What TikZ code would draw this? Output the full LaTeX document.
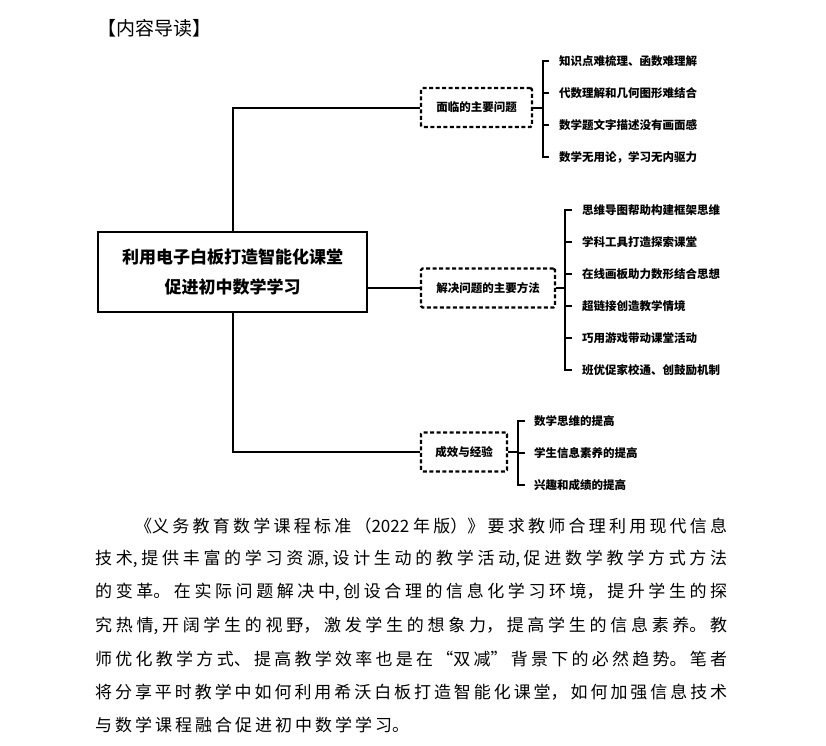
\documentclass[tikz,border=0pt]{standalone}
\usepackage{fontspec}
\setmainfont{Noto Sans CJK SC}
\def\parasetup{\XeTeXlinebreaklocale "zh"\XeTeXlinebreakskip=3pt plus 3pt minus 1pt\relax\tolerance=10000\relax}
\begin{document}
\begin{tikzpicture}[x=1pt,y=-1pt,
  conn/.style={line width=2pt},
  mainbox/.style={draw,line width=1.8pt,minimum width=269pt,minimum height=80pt,align=center,inner sep=0pt,
    font=\fontsize{17}{30}\selectfont\bfseries},
  branch/.style={draw,line width=2.2pt,dash pattern=on 4pt off 2.5pt,rounded corners=1.5pt,minimum height=39pt,inner sep=0pt,
    font=\fontsize{11.5}{14}\selectfont\bfseries},
  item/.style={anchor=west,inner sep=0pt,font=\fontsize{11.5}{14}\selectfont\bfseries},
  para/.style={anchor=west,inner sep=0pt,align=justify,text width=632pt,font=\fontsize{17}{20}\selectfont\parasetup}]
\useasboundingbox (0,0) rectangle (826,745);

% title
\node[inner sep=0pt,font=\fontsize{19}{22}\selectfont] (title) at (154,28) {【内容导读】};

% main node
\node[mainbox] (main) at (232.5,272) {利用电子白板打造智能化课堂\\促进初中数学学习};

% branches
\node[branch,minimum width=111pt] (b1) at (476.5,107.5) {面临的主要问题};
\node[branch,minimum width=134pt] (b2) at (488,288) {解决问题的主要方法};
\node[branch,minimum width=86pt]  (b3) at (464,452) {成效与经验};

% items group 1
\node[item] (i11) at (559,61)  {知识点难梳理、函数难理解};
\node[item] (i12) at (559,93)  {代数理解和几何图形难结合};
\node[item] (i13) at (559,125) {数学题文字描述没有画面感};
\node[item] (i14) at (559,157) {数学无用论，学习无内驱力};
% items group 2
\node[item] (i21) at (582,210) {思维导图帮助构建框架思维};
\node[item] (i22) at (582,242) {学科工具打造探索课堂};
\node[item] (i23) at (582,274) {在线画板助力数形结合思想};
\node[item] (i24) at (582,306) {超链接创造教学情境};
\node[item] (i25) at (582,338) {巧用游戏带动课堂活动};
\node[item] (i26) at (582,370) {班优促家校通、创鼓励机制};
% items group 3
\node[item] (i31) at (534,421) {数学思维的提高};
\node[item] (i32) at (534,453) {学生信息素养的提高};
\node[item] (i33) at (534,485) {兴趣和成绩的提高};

% bracket coordinates
\coordinate (k1) at (543,0);  \coordinate (t1) at (549,0);
\coordinate (k2) at (565,0);  \coordinate (t2) at (572,0);
\coordinate (k3) at (518,0);  \coordinate (t3) at (525,0);

% trunk connectors
\draw[conn] (b1.west) -| (main.north);
\draw[conn] (b3.west) -| (main.south);
\draw[conn] (main.east |- b2.west) -- (b2.west);

% bracket 1
\draw[conn] (b1.east) -- (b1.east -| k1);
\draw[conn] (i11.west -| t1) -- (i11.west -| k1) -- (i14.west -| k1) -- (i14.west -| t1);
\draw[conn] (i12.west -| k1) -- (i12.west -| t1);
\draw[conn] (i13.west -| k1) -- (i13.west -| t1);
% bracket 2
\draw[conn] (b2.east) -- (b2.east -| k2);
\draw[conn] (i21.west -| t2) -- (i21.west -| k2) -- (i26.west -| k2) -- (i26.west -| t2);
\draw[conn] (i22.west -| k2) -- (i22.west -| t2);
\draw[conn] (i23.west -| k2) -- (i23.west -| t2);
\draw[conn] (i24.west -| k2) -- (i24.west -| t2);
\draw[conn] (i25.west -| k2) -- (i25.west -| t2);
% bracket 3
\draw[conn] (b3.east) -- (b3.east -| k3);
\draw[conn] (i31.west -| t3) -- (i31.west -| k3) -- (i33.west -| k3) -- (i33.west -| t3);
\draw[conn] (i32.west -| k3) -- (i32.west -| t3);

% paragraph
\node[para,text width=592pt] (p1) at (135,526) {\parfillskip=0pt\relax 《义务教育数学课程标准（2022 年版）》要求教师合理利用现代信息\par};
\node[para] (p2) at (95,559) {\parfillskip=0pt\relax 技术,提供丰富的学习资源,设计生动的教学活动,促进数学教学方式方法\par};
\node[para] (p3) at (95,592) {\parfillskip=0pt\relax 的变革。在实际问题解决中,创设合理的信息化学习环境，提升学生的探\par};
\node[para] (p4) at (95,626) {\parfillskip=0pt\relax 究热情,开阔学生的视野，激发学生的想象力，提高学生的信息素养。教\par};
\node[para] (p5) at (95,659) {\parfillskip=0pt\relax 师优化教学方式、提高教学效率也是在“双减”背景下的必然趋势。笔者\par};
\node[para] (p6) at (95,692) {\parfillskip=0pt\relax 将分享平时教学中如何利用希沃白板打造智能化课堂，如何加强信息技术\par};
\node[para] (p7) at (95,725) {与数学课程融合促进初中数学学习。\par};
\end{tikzpicture}
\end{document}
